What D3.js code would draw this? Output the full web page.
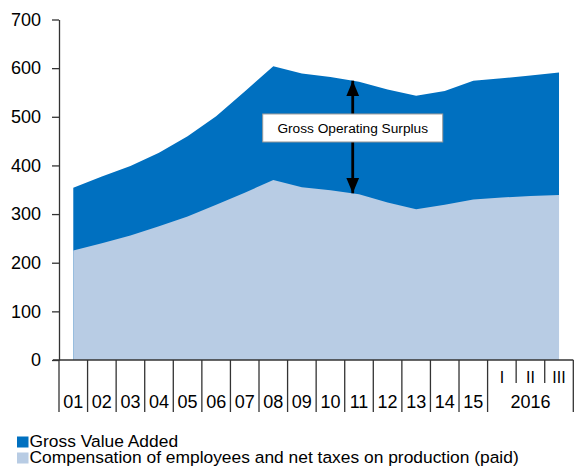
<!DOCTYPE html>
<html>
<head>
<meta charset="utf-8">
<script src="https://cdn.jsdelivr.net/npm/d3@7"></script>
<style>
  body { margin: 0; background: #fff; }
  svg { display: block; font-family: "Liberation Sans", Arial, sans-serif; }
</style>
</head>
<body>
<div id="chart"></div>
<script>
// categories: years 2001-2015, then quarters of 2016
var categories = ["01","02","03","04","05","06","07","08","09","10","11","12","13","14","15","I","II","III"];
var quarterLabels = ["I","II","III"];
var groupLabel = "2016";
// Gross Value Added (top of the area)
var grossValueAdded = [354, 377, 399, 426, 460, 501, 552, 604, 589, 582, 572, 556, 543, 553, 574, 579, 585, 591];
// Compensation of employees and net taxes on production (paid)
var compensation = [225, 240, 256, 275, 295, 319, 344, 370, 355, 349, 341, 324, 310, 319, 330, 334, 337, 339];
var yTicks = [0, 100, 200, 300, 400, 500, 600, 700];
var seriesNames = ["Gross Value Added", "Compensation of employees and net taxes on production (paid)"];

var width = 582, height = 472;
var colorGVA = "#0070C0", colorComp = "#B8CCE4";

var svg = d3.select("#chart")
    .append("svg")
    .attr("width", width)
    .attr("height", height);

var x = d3.scaleBand()
    .domain(categories)
    .range([59, 573.3])
    .padding(0);

var y = d3.scaleLinear()
    .domain([0, 700])
    .range([360, 19.5]);

var cx = function (c) { return x(c) + x.bandwidth() / 2; };

var data = categories.map(function (c, i) {
    return {cat: c, gva: grossValueAdded[i], comp: compensation[i]};
});

// areas
var areaTop = d3.area()
    .x(function (d) { return cx(d.cat); })
    .y0(y(0))
    .y1(function (d) { return y(d.gva); });

var areaBottom = d3.area()
    .x(function (d) { return cx(d.cat); })
    .y0(y(0))
    .y1(function (d) { return y(d.comp); });

svg.append("path").datum(data).attr("d", areaTop).style("fill", colorGVA);
svg.append("path").datum(data).attr("d", areaBottom).style("fill", colorComp);

// Y axis
var yAxis = svg.append("g")
    .attr("transform", "translate(59,0)")
    .call(d3.axisLeft(y).tickValues(yTicks).tickSize(7).tickPadding(11).tickSizeOuter(0))
    .style("font-size", "18px")
    .style("font-family", "Liberation Sans, Arial, sans-serif");
yAxis.selectAll("line, path").style("stroke", "#333").style("stroke-width", 1.3);
yAxis.selectAll("text").style("fill", "#000");

// X axis line
svg.append("line")
    .attr("x1", 53).attr("x2", x.range()[1])
    .attr("y1", y(0)).attr("y2", y(0))
    .style("stroke", "#333").style("stroke-width", 1.3);

// separators between categories
var bounds = categories.map(function (c) { return x(c); }).concat([x.range()[1]]);
svg.selectAll(".sep")
    .data(bounds)
    .enter()
    .append("line")
    .attr("class", "sep")
    .attr("x1", function (d) { return d; })
    .attr("x2", function (d) { return d; })
    .attr("y1", y(0))
    .attr("y2", function (d, i) {
        var c = categories[i];
        return (c === "II" || c === "III") ? 383 : 412;
    })
    .style("stroke", "#333").style("stroke-width", 1.3);

// category labels
svg.selectAll(".xlab")
    .data(categories)
    .enter()
    .append("text")
    .attr("x", function (d) { return cx(d); })
    .attr("y", function (d) { return quarterLabels.indexOf(d) >= 0 ? 377.5 : 401.7; })
    .attr("dy", "0.35em")
    .attr("text-anchor", "middle")
    .style("font-size", function (d) { return quarterLabels.indexOf(d) >= 0 ? "16px" : "18px"; })
    .style("fill", "#000")
    .text(function (d) { return d; });

svg.append("text")
    .attr("x", (x("I") + x.range()[1]) / 2)
    .attr("y", 401.7)
    .attr("dy", "0.35em")
    .attr("text-anchor", "middle")
    .style("font-size", "18px")
    .style("fill", "#000")
    .text(groupLabel);

// Gross Operating Surplus annotation
var i10 = categories.indexOf("10"), frac = 0.78;
var arrowX = cx("10") + frac * x.step();
var topV = grossValueAdded[i10] + frac * (grossValueAdded[i10 + 1] - grossValueAdded[i10]);
var botV = compensation[i10] + frac * (compensation[i10 + 1] - compensation[i10]);
var yTop = y(topV), yBot = y(botV);

var defs = svg.append("defs");
defs.append("marker")
    .attr("id", "arrowhead")
    .attr("viewBox", "0 0 10 12")
    .attr("refX", 12).attr("refY", 5)
    .attr("markerWidth", 5.5).attr("markerHeight", 5)
    .attr("markerUnits", "strokeWidth")
    .attr("orient", "auto-start-reverse")
    .attr("viewBox", "0 0 12 10")
    .append("path")
    .attr("d", "M0,0 L12,5 L0,10 Z")
    .style("fill", "#000");

svg.append("line")
    .attr("x1", arrowX).attr("x2", arrowX)
    .attr("y1", yTop).attr("y2", yBot)
    .style("stroke", "#000").style("stroke-width", 2.8)
    .attr("marker-start", "url(#arrowhead)")
    .attr("marker-end", "url(#arrowhead)");

var boxY = y(477);
svg.append("rect")
    .attr("x", arrowX - 90).attr("y", boxY - 14)
    .attr("width", 180).attr("height", 28)
    .style("fill", "#fff").style("stroke", "#999").style("stroke-width", 1);

svg.append("text")
    .attr("x", arrowX).attr("y", boxY)
    .attr("dy", "0.35em")
    .attr("text-anchor", "middle")
    .style("font-size", "13.7px")
    .style("fill", "#000")
    .text("Gross Operating Surplus");

// legend
var legend = svg.selectAll(".legend")
    .data(seriesNames)
    .enter()
    .append("g")
    .attr("class", "legend")
    .attr("transform", function (d, i) { return "translate(17," + (436.5 + i * 16) + ")"; });

legend.append("rect")
    .attr("width", 11.5).attr("height", 11)
    .style("fill", function (d, i) { return i === 0 ? colorGVA : colorComp; });

legend.append("text")
    .attr("x", 12.5).attr("y", 10.5)
    .style("font-size", "17.4px")
    .style("fill", "#000")
    .text(function (d) { return d; });
</script>
</body>
</html>
